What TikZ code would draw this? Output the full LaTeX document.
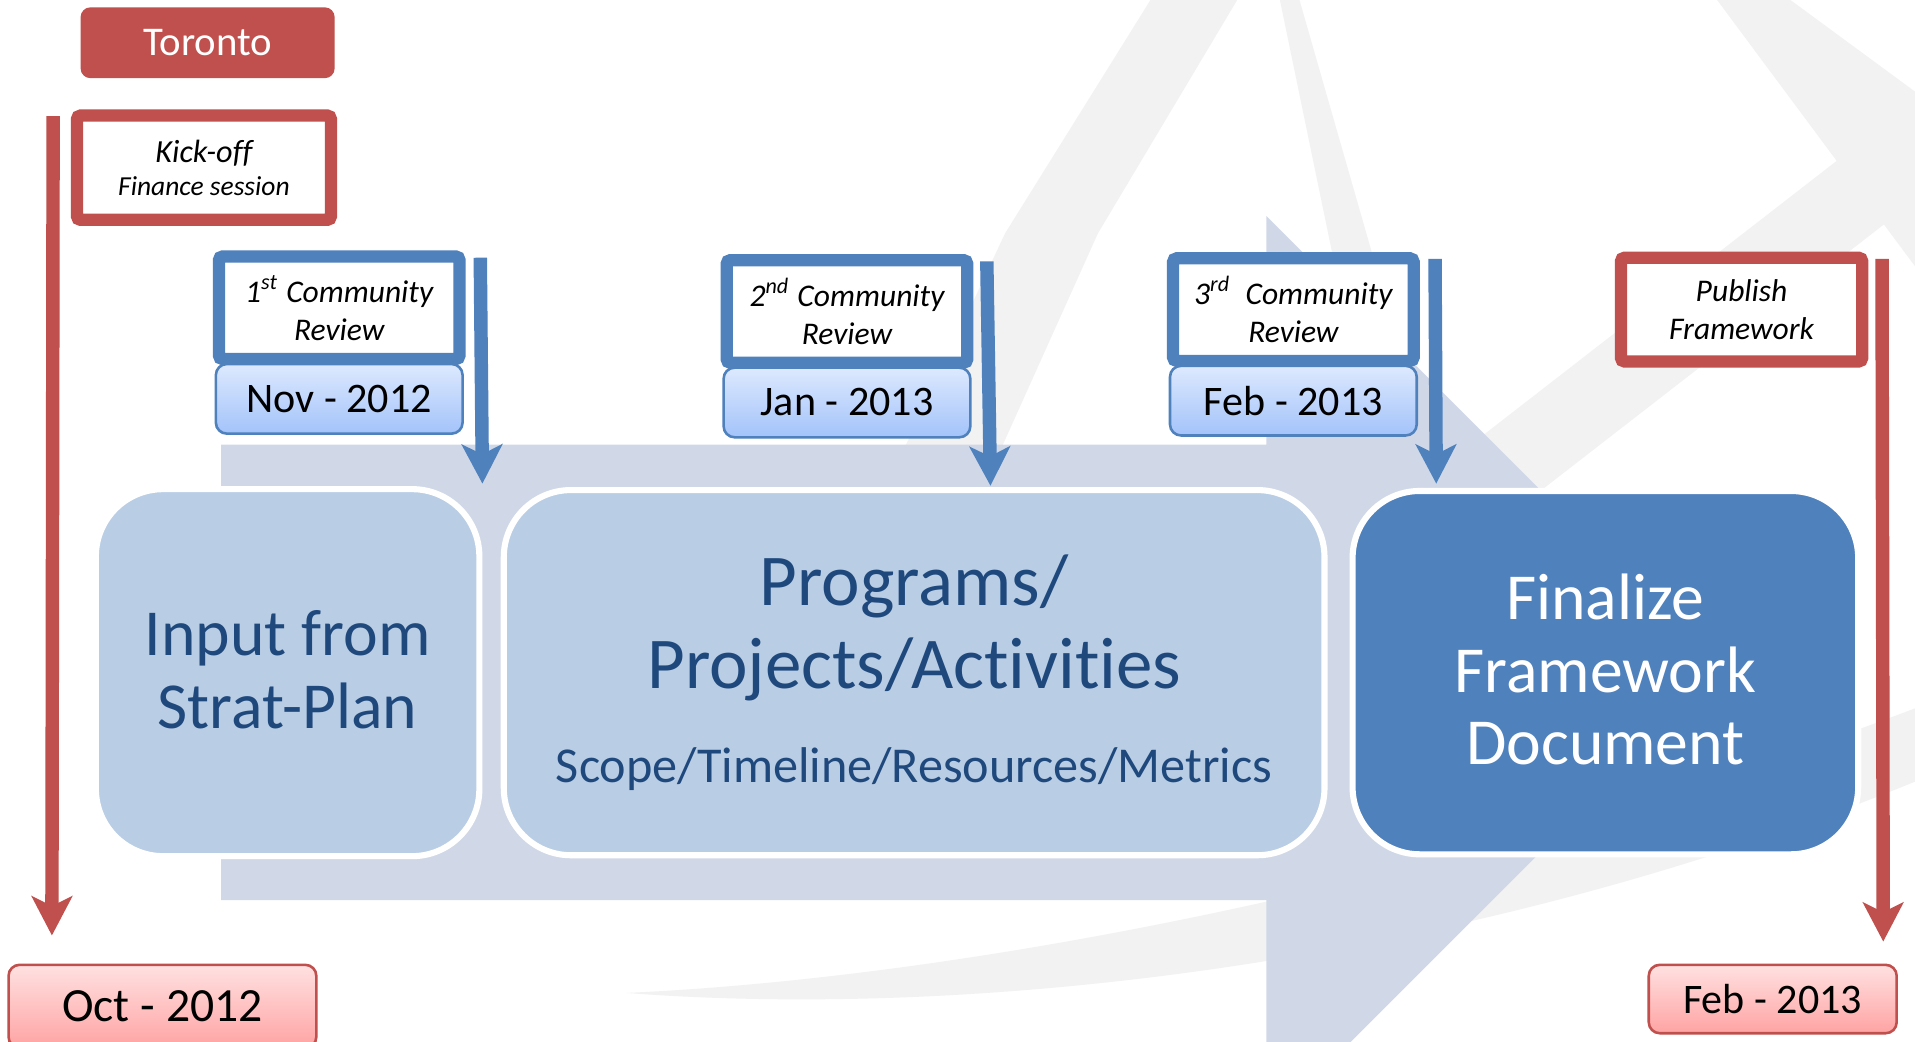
\documentclass[tikz,border=0pt]{standalone}
\usepackage{fontspec}
\setmainfont{Carlito}[Ligatures = NoCommon]
\usepackage{tikz}
\usetikzlibrary{arrows.meta}
\usetikzlibrary{positioning}
\usetikzlibrary{calc}
\definecolor{redline}{HTML}{C0504D}
\definecolor{blueline}{HTML}{4F81BD}
\definecolor{stagefill}{HTML}{B9CDE5}
\definecolor{stagetext}{HTML}{1F497D}
\definecolor{flowfill}{HTML}{D0D8E8}
\definecolor{watermark}{HTML}{F2F2F2}
\definecolor{datetop}{HTML}{DDE9FE}
\definecolor{datebottom}{HTML}{A3C3FA}
\definecolor{pinktop}{HTML}{FFE1E1}
\definecolor{pinkbottom}{HTML}{FFA3A3}
\newcommand{\stagefont}{\fontsize{15.3}{17}\selectfont}
\newcommand{\progfont}{\fontsize{17}{19.3}\selectfont}
\newcommand{\scopefont}{\fontsize{11.7}{13}\selectfont}
\newcommand{\datefont}{\fontsize{9.8}{11}\selectfont}
\newcommand{\octfont}{\fontsize{11.1}{12}\selectfont}
\newcommand{\cityfont}{\fontsize{9.5}{11}\selectfont}
\newcommand{\notefont}{\fontsize{7.35}{8.9}\selectfont\itshape}
\newcommand{\kickfont}{\fontsize{6.4}{7.7}\selectfont\itshape}
\newcommand{\lowend}{\rule[-1.6pt]{0pt}{1.6pt}}
\tikzstyle{stage} = [rectangle, rounded corners = 5.5mm, draw = white, line width = 0.5mm, inner sep = 0pt, align = center]
\tikzstyle{note} = [rectangle, fill = white, line width = 1mm, rounded corners = 0.3mm, inner sep = 0pt, align = center, font = \notefont]
\tikzstyle{review} = [note, draw = blueline, minimum width = 19.7mm, minimum height = 8.4mm]
\tikzstyle{milestone} = [note, draw = redline]
\tikzstyle{datebox} = [rectangle, draw = blueline, line width = 0.6pt, rounded corners = 0.9mm, top color = datetop, bottom color = datebottom, minimum width = 20.2mm, minimum height = 5.7mm, inner sep = 0pt, font = \datefont]
\tikzstyle{pinkbox} = [datebox, draw = redline, top color = pinktop, bottom color = pinkbottom]
\tikzstyle{arrow} = [line width = 1.1mm, -{Stealth[length = 3.2mm, width = 3.3mm, inset = 0.8mm]}]

\begin{document}
\begin{tikzpicture}[x = 0.1mm, y = -0.1mm]
			
			\useasboundingbox (0,0) rectangle (1568,853);
			\fill[white] (0,0) rectangle (1568,853);
			
			% Faint logo in the background
			\fill[watermark] (942,0) -- (1013,0) -- (899,191) -- (805,400) -- (725,400) -- (823,191) -- cycle;
			\fill[watermark] (1048,0) -- (1064,0) -- (1150,300) -- (1110,300) -- cycle;
			\fill[watermark] (1406,0) -- (1466,0) -- (1568,75) -- (1568,218) -- cycle;
			\fill[watermark] (1568,82) -- (1568,164) -- (1180,465) -- (1180,383) -- cycle;
			\fill[watermark] (513,813) .. controls (800,800) and (1200,720) .. (1568,580) -- (1568,640) .. controls (1200,790) and (800,835) .. (513,813) -- cycle;
			
			% Big flow arrow
			\fill[flowfill] (181,364) -- (1037,364) -- (1037,177) -- (1409.5,549.5) -- (1037,922) -- (1037,737) -- (181,737) -- cycle;
			
			% Stages of the framework
			\node[stage, fill = stagefill, text = stagetext, font = \stagefont, minimum width = 31.4mm, minimum height = 30.05mm] (input) at (235.5,550.75) {Input from\\Strat-Plan\lowend};
			\node[stage, fill = stagefill, text = stagetext, font = \progfont, minimum width = 67.2mm, minimum height = 29.9mm, right = 1.5mm of input] (programs) {Programs/\\Projects/Activities\\[2.7pt]{\scopefont Scope/Timeline/Resources/Metrics}};
			\node[stage, fill = blueline, text = white, font = \stagefont, minimum width = 41.4mm, minimum height = 29.75mm, right = 1.8mm of programs] (finalize) {Finalize\\Framework\\Document\lowend};
			
			% Toronto start
			\node[fill = redline, rounded corners = 0.8mm, minimum width = 20.8mm, minimum height = 5.8mm, inner sep = 0pt, text = white, font = \cityfont] (toronto) at (170,35) {Toronto};
			\node[milestone, minimum width = 20.8mm, minimum height = 8.54mm, font = \kickfont] (kickoff) at (167,137.3) {{\fontsize{7.5}{7.7}\selectfont Kick-off}\\Finance session};
			
			% Community reviews and their dates
			\node[review] (rev1) at (277.75,252) {1\textsuperscript{st} Community\\Review};
			\node[datebox, below = -0.2mm of rev1] (nov) {Nov - 2012};
			\node[review] (rev2) at (693.5,255) {2\textsuperscript{nd} Community\\Review};
			\node[datebox, below = -0.2mm of rev2] (jan) {Jan - 2013};
			\node[review] (rev3) at (1059,253.5) {3\textsuperscript{rd}\ \ Community\\Review};
			\node[datebox, below = -0.2mm of rev3] (feb) {Feb - 2013};
			
			% Publish
			\node[milestone, minimum width = 19.76mm, minimum height = 8.5mm] (publish) at (1426,253.5) {Publish\\Framework};
			
			% Start and end dates
			\node[pinkbox, minimum width = 25.2mm, minimum height = 6.8mm, font = \octfont] (oct) at (133,824) {Oct - 2012};
			\node[pinkbox, minimum width = 20.3mm, minimum height = 5.6mm] (febend) at (1451.5,818) {Feb - 2013};
			
			% Ends of the arrows
			\coordinate (lkickoff) at ($(kickoff.north west) + (-14.5,5.4)$);
			\coordinate (toct) at ($(oct.north) + (-90.5,-23)$);
			\coordinate (rrev1) at ($(rev1.north east) + (12,6)$);
			\coordinate (tinput) at ($(input.north east) + (0,-2)$);
			\coordinate (rrev2) at ($(rev2.north east) + (11,6)$);
			\coordinate (tprograms) at ($(programs.north) + (62.5,-1)$);
			\coordinate (rrev3) at ($(rev3.north east) + (12.5,5.5)$);
			\coordinate (tfinalize) at ($(finalize.north west) + (71,-3.5)$);
			\coordinate (rpublish) at ($(publish.north east) + (11.2,6)$);
			\coordinate (tfebend) at ($(febend.north) + (90.5,-18)$);
			
			% Connect all nodes defined above
			\draw[arrow, redline] (lkickoff) -- (toct);
			\draw[arrow, blueline] (rrev1) -- (tinput);
			\draw[arrow, blueline] (rrev2) -- (tprograms);
			\draw[arrow, blueline] (rrev3) -- (tfinalize);
			\draw[arrow, redline] (rpublish) -- (tfebend);
		
		\end{tikzpicture}
\end{document}
